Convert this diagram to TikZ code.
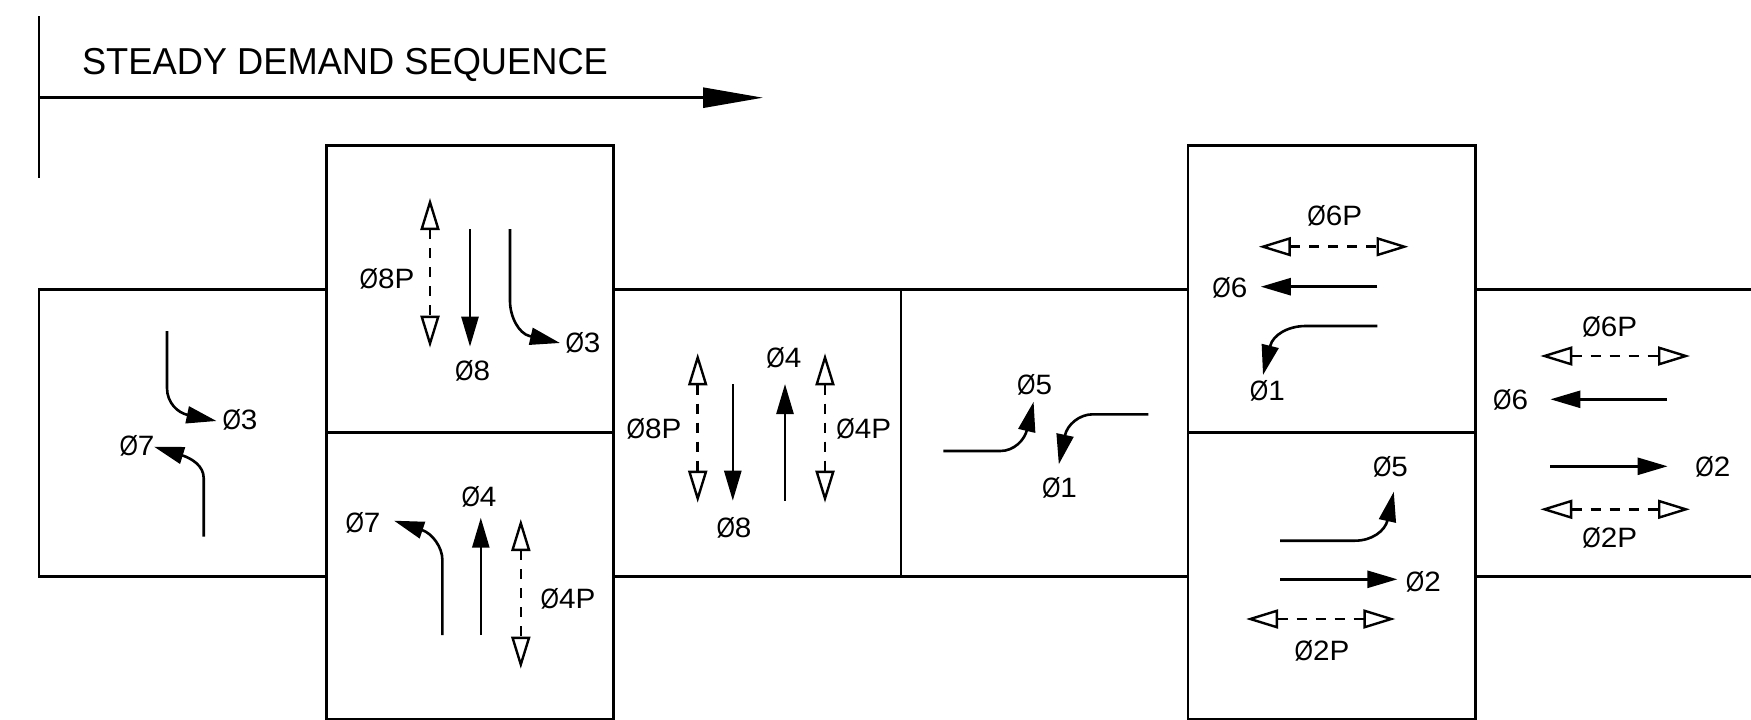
\documentclass[tikz,border=0pt]{standalone}
\usepackage{fontspec}
\usepackage{graphicx}
\setmainfont{Liberation Sans}
\usetikzlibrary{arrows.meta}
\newcommand{\ph}[1]{\scalebox{1.06}[1.0]{\scalebox{0.8}[1.0]{Ø}#1}}
\tikzset{
  ln/.style={line width=2.6pt,black},
  panel/.style={draw,line width=2.6pt,rectangle,inner sep=0pt,outer sep=0pt},
  lbl/.style={font=\fontsize{28}{28}\selectfont,inner sep=0pt,anchor=center},
  solidflow/.style={ln,-{Triangle[length=30pt,width=17pt]}},
  ped/.style={ln,dash pattern=on 10pt off 9pt,shorten <=-2pt,shorten >=-2pt,
    {Triangle[open,length=32pt,width=19pt,line width=2.4pt]}-{Triangle[open,length=32pt,width=19pt,line width=2.4pt]}}
}
% straight movement between two named coordinates
\newcommand{\thru}[3]{\coordinate (#1a) at (#2);\coordinate (#1b) at (#3);\draw[solidflow] (#1a) -- (#1b);}
% pedestrian movement between two named coordinates
\newcommand{\walk}[3]{\coordinate (#1a) at (#2);\coordinate (#1b) at (#3);\draw[ped] (#1a) -- (#1b);}
% turning movement: name, start, bend, c1, c2, head base, tip
\newcommand{\turn}[7]{\coordinate (#1a) at (#2);\coordinate (#1b) at (#7);\draw[solidflow,line join=round] (#1a) -- (#3) .. controls (#4) and (#5) .. (#6) -- (#1b);}
\begin{document}
\begin{tikzpicture}[x=1pt,y=-1pt]
\useasboundingbox (0,0) rectangle (1751,720);
% header
\coordinate (hTop) at (39,16);
\coordinate (hBot) at (39,178);
\coordinate (hStart) at (39,97.7);
\coordinate (hEnd) at (763,97.7);
\draw[ln] (hTop) -- (hBot);
\draw[ln,-{Triangle[length=60pt,width=20pt]}] (hStart) -- (hEnd);
\node[inner sep=0pt,font=\fontsize{37.5}{37.5}\selectfont] (title) at (345,65) {\scalebox{0.967}[1.0]{STEADY DEMAND SEQUENCE}};
% panels
\node[panel,minimum width=287.25pt,minimum height=287pt] (p1) at (182.625,432.7) {};
\node[panel,minimum width=287.25pt,minimum height=287pt] (p3) at (757.375,432.7) {};
\node[panel,minimum width=287pt,minimum height=287pt] (p4) at (1044.5,432.7) {};
\node[panel,minimum width=287.5pt,minimum height=287pt] (p2u) at (470,288.8) {};
\node[panel,minimum width=287.5pt,minimum height=287pt] (p2l) at (470,575.8) {};
\node[panel,minimum width=287.5pt,minimum height=287pt] (p5u) at (1331.75,288.8) {};
\node[panel,minimum width=287.5pt,minimum height=287pt] (p5l) at (1331.75,575.8) {};
\coordinate (rTop) at (1751,289.2);
\coordinate (rBot) at (1751,576.2);
\draw[ln] (p5u.east |- rTop) -- (rTop);
\draw[ln] (p5u.east |- rBot) -- (rBot);
% panel 1
\turn{a}{167,331}{167,388}{167,403}{178,413}{188,415}{216.5,421}
\turn{b}{203.7,536.7}{203.7,478}{203.7,466}{192,458.5}{182,455.3}{154,446.7}
\node[lbl] (l1) at (240,420) {\ph{3}};
\node[lbl] (l2) at (137,445.7) {\ph{7}};
% panel 2 upper
\walk{c}{430,200}{430,345.7}
\thru{d}{470,229}{470,346.7}
\turn{e}{510,229}{510,301}{510,317}{519,333.6}{529.5,336}{560,343}
\node[lbl] (l3) at (387,279) {\ph{8P}};
\node[lbl] (l4) at (472.6,370.7) {\ph{8}};
\node[lbl] (l5) at (583,343) {\ph{3}};
% panel 2 lower
\turn{f}{442.4,635}{442.4,560}{442.4,547}{432,533.3}{422,530}{394,520.7}
\thru{g}{480.8,635}{480.8,517.7}
\walk{h}{520.8,521}{520.8,666.7}
\node[lbl] (l6) at (363,523) {\ph{7}};
\node[lbl] (l7) at (479,496.7) {\ph{4}};
\node[lbl] (l8) at (568,598.7) {\ph{4P}};
% panel 3
\walk{i}{697.7,355.3}{697.7,500.7}
\thru{j}{732.8,384}{732.8,500.7}
\thru{k}{785,500.7}{785,384}
\walk{m}{825,355.3}{825,500.7}
\node[lbl] (l9) at (654,429.3) {\ph{8P}};
\node[lbl] (l10) at (734,528.3) {\ph{8}};
\node[lbl] (l11) at (783.9,357.7) {\ph{4}};
\node[lbl] (l12) at (863.8,429.3) {\ph{4P}};
% panel 4
\turn{n}{943.3,451}{1000.3,451}{1014,451}{1024.6,440}{1027,429.7}{1033.6,401.7}
\turn{o}{1148.3,414.3}{1092.8,414.3}{1079,414.3}{1067.2,425}{1065,435.3}{1058.8,464.3}
\node[lbl] (l13) at (1034.7,385) {\ph{5}};
\node[lbl] (l14) at (1059.5,488.3) {\ph{1}};
% panel 5 upper
\walk{q}{1260.8,246.7}{1406.5,246.7}
\thru{r}{1377.4,286.7}{1260.8,286.7}
\turn{s}{1377.4,326}{1305.6,326}{1288,326}{1273,335}{1270.3,345.7}{1263,375}
\node[lbl] (l15) at (1334.8,216) {\ph{6P}};
\node[lbl] (l16) at (1229.9,288.3) {\ph{6}};
\node[lbl] (l17) at (1267.4,390.7) {\ph{1}};
% panel 5 lower
\turn{t}{1280,540.7}{1354.8,540.7}{1372,540.7}{1385,531}{1387.6,520}{1393.8,491.7}
\thru{u}{1280.1,579.3}{1397.4,579.3}
\walk{v}{1248.1,619}{1393.4,619}
\node[lbl] (l18) at (1390.5,466.7) {\ph{5}};
\node[lbl] (l19) at (1423.3,581.7) {\ph{2}};
\node[lbl] (l20) at (1322,650.7) {\ph{2P}};
% panel 6
\walk{w}{1542.3,356}{1688,356}
\thru{x}{1667.2,399.3}{1550.4,399.3}
\thru{y}{1550.4,466.3}{1667.6,466.3}
\walk{z}{1542.3,509.3}{1688,509.3}
\node[lbl] (l21) at (1609.7,326.7) {\ph{6P}};
\node[lbl] (l22) at (1510.7,400) {\ph{6}};
\node[lbl] (l23) at (1712.8,466.7) {\ph{2}};
\node[lbl] (l24) at (1609.7,538.3) {\ph{2P}};
\end{tikzpicture}
\end{document}
